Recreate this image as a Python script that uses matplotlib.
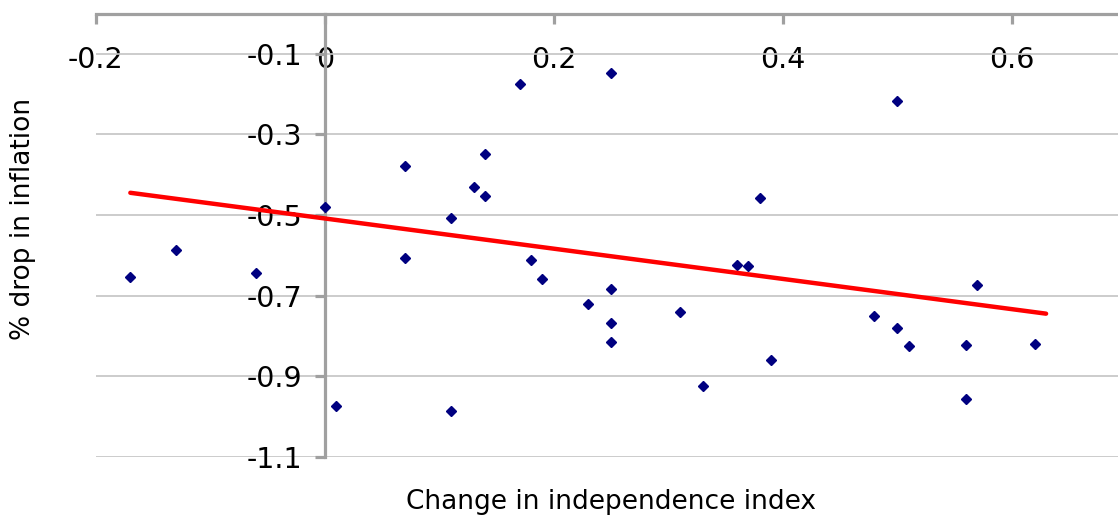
import matplotlib
matplotlib.use('Agg')
import matplotlib.pyplot as plt

plt.rcParams['font.family'] = ['DejaVu Sans']
plt.rcParams['axes.unicode_minus'] = False

# values
index_change = [-0.17, -0.13, -0.06, 0.0, 0.01, 0.07, 0.07, 0.11, 0.11, 0.13,
                0.14, 0.14, 0.17, 0.18, 0.19, 0.23, 0.25, 0.25, 0.25, 0.25,
                0.31, 0.33, 0.36, 0.37, 0.38, 0.39, 0.48, 0.50, 0.50, 0.51,
                0.56, 0.56, 0.57, 0.62]
inflation_drop = [-0.654, -0.586, -0.645, -0.480, -0.974, -0.379, -0.607, -0.507, -0.986, -0.431,
                  -0.453, -0.349, -0.176, -0.613, -0.660, -0.722, -0.148, -0.683, -0.769, -0.815,
                  -0.740, -0.924, -0.624, -0.627, -0.458, -0.859, -0.751, -0.217, -0.781, -0.826,
                  -0.823, -0.957, -0.675, -0.821]

trend_x = [-0.17, 0.63]
trend_y = [-0.445, -0.745]

x_ticks = [-0.2, 0, 0.2, 0.4, 0.6]
x_tick_labels = ['-0.2', '0', '0.2', '0.4', '0.6']
y_ticks = [-1.1, -0.9, -0.7, -0.5, -0.3, -0.1]
y_tick_labels = ['-1.1', '-0.9', '-0.7', '-0.5', '-0.3', '-0.1']

axis_grey = '#a0a0a0'

fig = plt.figure(figsize=(11.18, 5.19), dpi=100)
ax = fig.add_axes([96 / 1118, (519 - 456.7) / 519, (1126.2 - 96) / 1118, (456.7 - 13.5) / 519])
ax.set_xlim(-0.2, 0.7)
ax.set_ylim(-1.1, 0)

ax.plot(index_change, inflation_drop, linestyle='none', marker='D', ms=5.2,
        color='#000080', zorder=3)
ax.plot(trend_x, trend_y, color='#ff0000', lw=3.2, solid_capstyle='round', zorder=4)

# axes cross at (0, 0): x axis on top, y axis through x = 0
ax.spines['right'].set_visible(False)
ax.spines['bottom'].set_visible(False)
ax.spines['left'].set_position(('data', 0))
for s in ['left', 'top']:
    ax.spines[s].set_color(axis_grey)
    ax.spines[s].set_linewidth(2.3)

ax.xaxis.set_ticks_position('top')
ax.set_xticks(x_ticks)
ax.set_xticklabels(x_tick_labels)
ax.tick_params(axis='x', direction='in', length=7.2, width=2.3, color=axis_grey,
               labelsize=20.5, pad=-33.6)
plt.setp(ax.get_xticklabels(), va='center')

ax.set_yticks(y_ticks)
ax.set_yticklabels(y_tick_labels)
ax.tick_params(axis='y', direction='out', length=7.2, width=2.3, color=axis_grey,
               labelsize=20.5, pad=9.0)

ax.yaxis.grid(True, color='#c4c4c4', lw=1.2)
ax.set_axisbelow(True)

fig.text(23 / 1118, 1 - 218.5 / 519, '% drop in inflation', rotation=90,
         ha='center', va='center', fontsize=19)
fig.text(611 / 1118, 1 - 502 / 519, 'Change in independence index',
         ha='center', va='center', fontsize=19)

fig.savefig('out.png', dpi=100, facecolor='white')
